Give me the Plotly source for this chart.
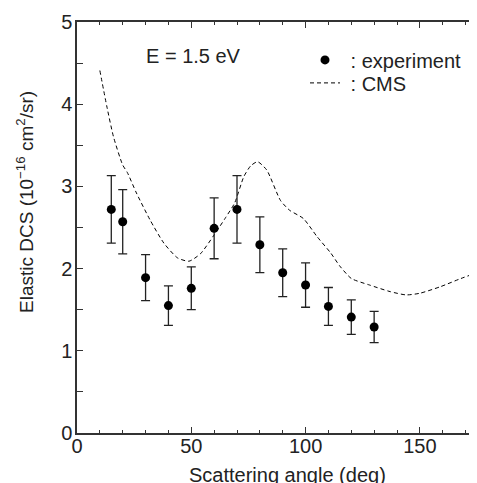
import plotly.graph_objects as go

# Experimental data
exp_angle = [15, 20, 30, 40, 50, 60, 70, 80, 90, 100, 110, 120, 130]
exp_dcs = [2.72, 2.57, 1.89, 1.55, 1.76, 2.49, 2.72, 2.29, 1.95, 1.80, 1.54, 1.41, 1.29]
exp_err = [0.41, 0.39, 0.28, 0.24, 0.26, 0.37, 0.41, 0.34, 0.29, 0.27, 0.23, 0.21, 0.19]

# CMS calculation
cms_angle = [10, 13, 16, 20, 22, 26, 32, 38, 44, 49, 54, 60, 65, 69, 73, 76, 79, 83,
             89, 93, 99, 105, 111, 115, 120, 128, 137, 144, 150, 159, 168, 175]
cms_dcs = [4.41, 3.98, 3.60, 3.26, 3.17, 2.92, 2.59, 2.31, 2.13, 2.09, 2.18, 2.41, 2.62,
           2.80, 3.12, 3.25, 3.30, 3.20, 2.83, 2.71, 2.61, 2.39, 2.19, 2.03, 1.88, 1.80,
           1.72, 1.68, 1.70, 1.78, 1.88, 1.95]

x_ticks = [0, 50, 100, 150]
y_ticks = [0, 1, 2, 3, 4, 5]

FONT = "Liberation Sans, Arial, Helvetica, sans-serif"
TXT = "#222222"
AX = "#333333"

# page body has an 8px margin; plot area sits at x 77..477, y 22..433 on screen
OFF = 8
PL, PT, PB = 77, 22, 433
PW = 477 - PL
PH = PB - PT

fig = go.Figure()

fig.add_trace(go.Scatter(
    x=cms_angle, y=cms_dcs, mode="lines",
    line=dict(color="black", width=1, dash="4px,3px", shape="spline", smoothing=0.6),
    showlegend=False, hoverinfo="skip"))

fig.add_trace(go.Scatter(
    x=exp_angle, y=exp_dcs, mode="markers",
    marker=dict(color="black", size=9),
    error_y=dict(type="data", array=exp_err, color="#222222", thickness=1.3, width=4.5),
    showlegend=False))

# legend entries
fig.add_trace(go.Scatter(x=[None], y=[None], mode="markers",
                         marker=dict(color="black", size=9), name="\u00a0: experiment",
                         legend="legend"))
fig.add_trace(go.Scatter(x=[None], y=[None], mode="lines",
                         line=dict(color="black", width=1, dash="4px,3px"), name="\u00a0: CMS",
                         legend="legend2"))

leg_common = dict(xanchor="left", yanchor="top", bgcolor="rgba(0,0,0,0)",
                  font=dict(size=20, color=TXT, family=FONT), itemwidth=30,
                  borderwidth=0)

fig.update_layout(
    width=477 - OFF, height=483 - OFF,
    margin=dict(l=PL - OFF, r=0, t=PT - OFF, b=483 - PB, pad=0),
    paper_bgcolor="white", plot_bgcolor="white",
    font=dict(family=FONT, size=20, color=TXT),
    showlegend=True,
    legend=dict(x=(305 - PL) / PW, y=(PB - 40.4) / PH, **leg_common),
    legend2=dict(x=(305 - PL) / PW, y=(PB - 63.4) / PH, **leg_common),
    xaxis=dict(range=[0, 175], tickvals=x_ticks, ticktext=[str(v) for v in x_ticks],
               ticks="inside", ticklen=6, tickwidth=1.3, tickcolor=AX,
               minor=dict(dtick=10, tick0=0, ticks="inside", ticklen=3, tickwidth=1.3, tickcolor=AX),
               showline=True, linecolor=AX, linewidth=1.5, mirror="ticks",
               showgrid=False, zeroline=False, ticklabelstandoff=-6,
               tickfont=dict(size=20, color=TXT)),
    yaxis=dict(range=[0, 5], tickvals=y_ticks, ticktext=[str(v) for v in y_ticks],
               ticks="inside", ticklen=6, tickwidth=1.3, tickcolor=AX,
               minor=dict(dtick=0.5, tick0=0, ticks="inside", ticklen=6, tickwidth=1.3, tickcolor=AX),
               showline=True, linecolor=AX, linewidth=1.5,
               showgrid=False, zeroline=False, ticklabelstandoff=-1,
               tickfont=dict(size=20, color=TXT)),
    annotations=[
        dict(text="E = 1.5 eV", x=(193 - PL) / PW, y=(PB - 56.5) / PH,
             xref="paper", yref="paper", showarrow=False,
             xanchor="center", yanchor="middle", font=dict(size=20, color=TXT)),
        dict(text="Scattering angle (deg)", x=(287 - PL) / PW, y=(PB - 475) / PH,
             xref="paper", yref="paper", showarrow=False,
             xanchor="center", yanchor="middle", font=dict(size=20, color=TXT)),
        dict(text="Elastic DCS (10<sup>\u221216</sup> cm<sup>2</sup>/sr)",
             x=(25 - PL) / PW, y=(PB - 202) / PH, textangle=-90,
             xref="paper", yref="paper", showarrow=False,
             xanchor="center", yanchor="middle", font=dict(size=19, color=TXT)),
    ],
)

fig.write_html("out.html")
